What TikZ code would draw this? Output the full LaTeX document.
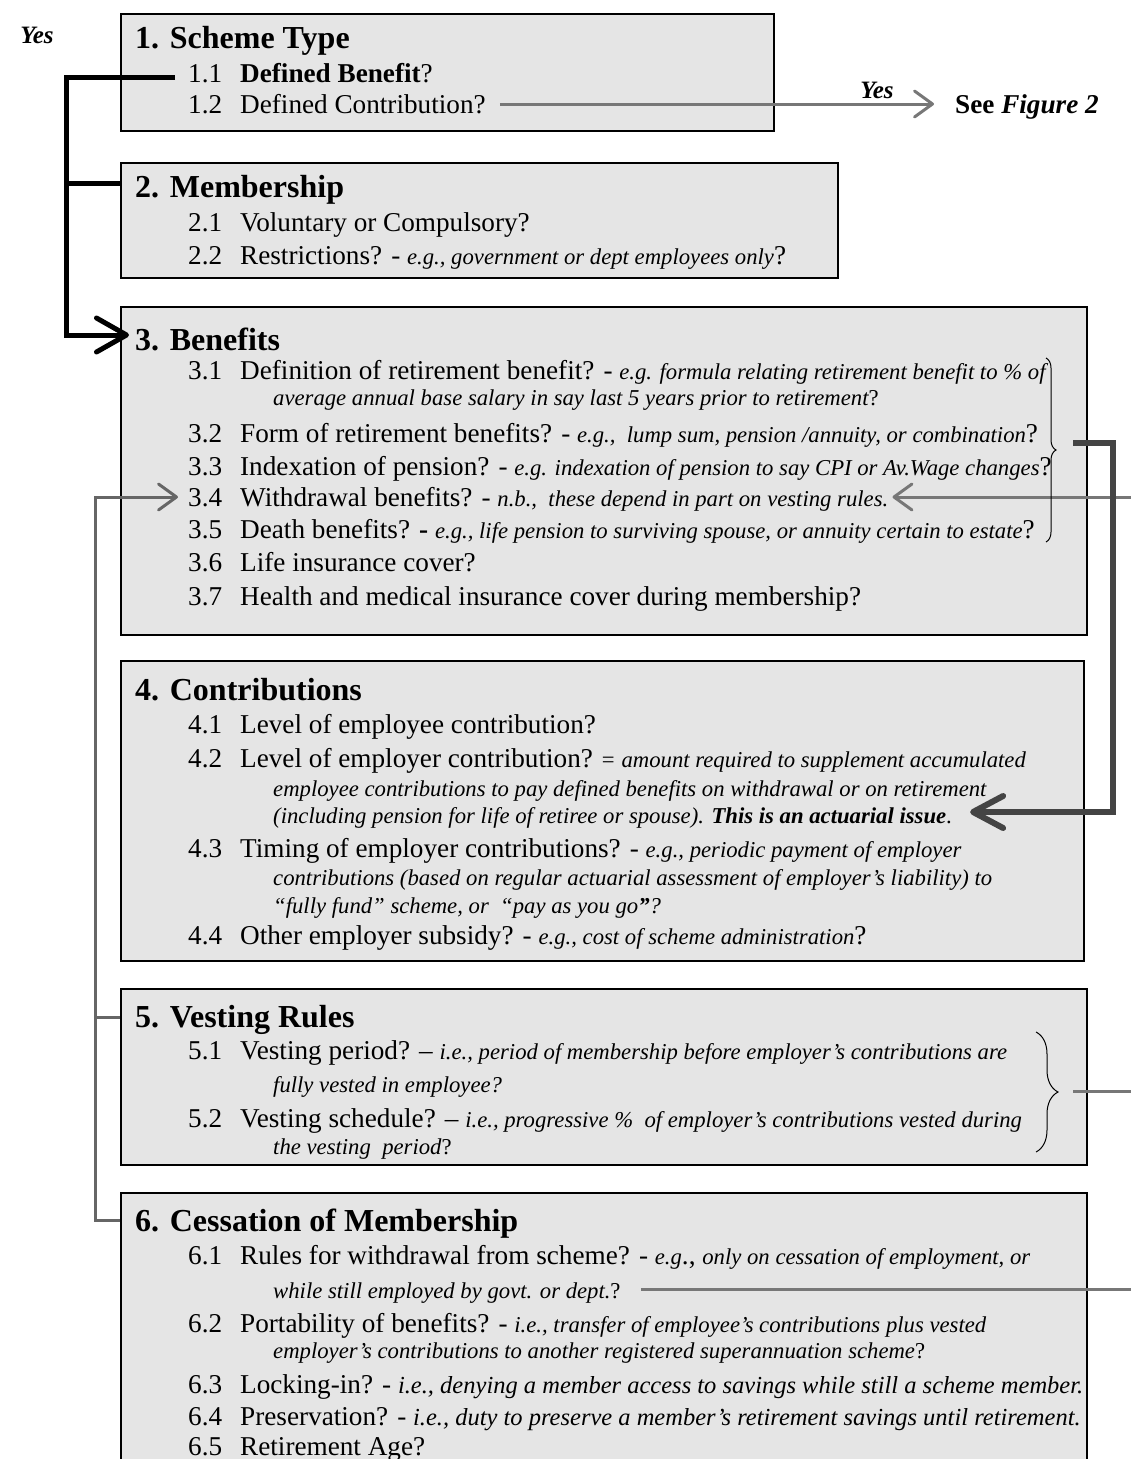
\documentclass[tikz,border=0pt]{standalone}
\usepackage{fontspec}
\setmainfont{Liberation Serif}
\usetikzlibrary{arrows.meta,decorations.pathreplacing,calc}
\definecolor{boxgray}{HTML}{E5E5E5}
\definecolor{lgrey}{HTML}{777777}
\definecolor{mgrey}{HTML}{666666}
\definecolor{dgrey}{HTML}{444444}
\newcommand{\TitleF}{\fontsize{32}{38}\selectfont\bfseries}
\newcommand{\MainF}{\fontsize{27.2}{32}\selectfont}
\newcommand{\NoteF}{\fontsize{22.7}{27}\selectfont\itshape}
\newcommand{\NT}[1]{{\NoteF #1}}
\newcommand{\NTb}[1]{{\fontsize{24.5}{29}\selectfont\itshape #1}}
\newcommand{\Num}[1]{\makebox[52pt][l]{#1}}
\begin{document}
\begin{tikzpicture}[x=1pt,y=-1pt,
  box/.style={draw=black, line width=1.8pt, fill=boxgray, inner sep=0pt, anchor=north west},
  txt/.style={anchor=base west, inner sep=0pt, font=\MainF},
  ttl/.style={anchor=base west, inner sep=0pt, font=\TitleF},
  cont/.style={anchor=base west, inner sep=0pt, font=\NoteF},
  yes/.style={inner sep=0pt, font=\fontsize{25}{30}\selectfont\bfseries\itshape},
  blk/.style={draw=black, line width=5pt},
  gl/.style={draw=mgrey, line width=3pt},
  gr/.style={draw=lgrey, line width=3pt},
  dk/.style={draw=dgrey, line width=6pt},
  bigtip/.style={-{Straight Barb[length=30pt,width=34pt,round]}},
  smalltip/.style={-{Straight Barb[length=18pt,width=26pt,round]}},
  dktip/.style={-{Straight Barb[length=30pt,width=32pt,round]}},
  brc/.style={draw=black, line width=1pt, decorate}
]
\clip (0,0) rectangle (1131,1459);
\useasboundingbox (0,0) rectangle (1131,1459);

% ---------- boxes ----------
\node[box, minimum width=653pt, minimum height=117pt] (b1) at (120,13) {};
\node[box, minimum width=717pt, minimum height=115pt] (b2) at (120,162) {};
\node[box, minimum width=966pt, minimum height=328pt] (b3) at (120,306) {};
\node[box, minimum width=963pt, minimum height=300pt] (b4) at (120,660) {};
\node[box, minimum width=966pt, minimum height=176pt] (b5) at (120,988) {};
\node[box, minimum width=966pt, minimum height=300pt] (b6) at (120,1192) {};

% ---------- box 1 ----------
\node[ttl] (h1) at (135,48) {1. Scheme Type};
\node[txt] (i11) at (188,82) {\Num{1.1}\textbf{Defined Benefit}?};
\node[txt] (i12) at (188,113) {\Num{1.2}Defined Contribution?};

% ---------- box 2 ----------
\node[ttl] (h2) at (135,197) {2. Membership};
\node[txt] (i21) at (188,231) {\Num{2.1}Voluntary or Compulsory?};
\node[txt] (i22) at (188,264) {\Num{2.2}Restrictions? - \NT{e.g., government or dept employees only}?};

% ---------- box 3 ----------
\node[ttl] (h3) at (135,350) {3. Benefits};
\node[txt] (i31) at (188,379) {\Num{3.1}Definition of retirement benefit? - \NT{e.g. formula relating retirement benefit to \% of}};
\node[cont] (c31) at (273,405) {average annual base salary in say last 5 years prior to retirement\upshape ?};
\node[txt] (i32) at (188,442) {\Num{3.2}Form of retirement benefits? - \NT{e.g.,\ \ lump sum, pension /annuity, or combination}?};
\node[txt] (i33) at (188,475) {\Num{3.3}Indexation of pension? - \NT{e.g. indexation of pension to say CPI or Av.Wage changes}?};
\node[txt] (i34) at (188,506) {\Num{3.4}Withdrawal benefits? - \NT{n.b.,\ \ these depend in part on vesting rules.}};
\node[txt] (i35) at (188,538) {\Num{3.5}Death benefits? \textbf{-} \NT{e.g., life pension to surviving spouse, or annuity certain to estate}?};
\node[txt] (i36) at (188,571) {\Num{3.6}Life insurance cover?};
\node[txt] (i37) at (188,605) {\Num{3.7}Health and medical insurance cover during membership?};

% ---------- box 4 ----------
\node[ttl] (h4) at (135,700) {4. Contributions};
\node[txt] (i41) at (188,733) {\Num{4.1}Level of employee contribution?};
\node[txt] (i42) at (188,767) {\Num{4.2}Level of employer contribution? {\fontsize{22.7}{27}\selectfont =} \NT{amount required to supplement accumulated}};
\node[cont] (c42a) at (273,796) {employee contributions to pay defined benefits on withdrawal or on retirement};
\node[cont] (c42b) at (273,823) {(including pension for life of retiree or spouse). \textbf{This is an actuarial issue}\upshape .};
\node[txt] (i43) at (188,857) {\Num{4.3}Timing of employer contributions? - \NT{e.g., periodic payment of employer}};
\node[cont] (c43a) at (273,885) {contributions (based on regular actuarial assessment of employer’s liability) to};
\node[cont] (c43b) at (273,913) {“fully fund” scheme, or\ \ “pay as you go\textbf{”}?};
\node[txt] (i44) at (188,944) {\Num{4.4}Other employer subsidy? - \NT{e.g., cost of scheme administration}?};

% ---------- box 5 ----------
\node[ttl] (h5) at (135,1027) {5. Vesting Rules};
\node[txt] (i51) at (188,1059) {\Num{5.1}Vesting period? -- \NT{i.e., period of membership before employer’s contributions are}};
\node[cont] (c51) at (273,1092) {fully vested in employee?};
\node[txt] (i52) at (188,1127) {\Num{5.2}Vesting schedule? -- \NT{i.e., progressive \%\ \ of employer’s contributions vested during}};
\node[cont] (c52) at (273,1154) {the vesting\ \ period\upshape ?};

% ---------- box 6 ----------
\node[ttl] (h6) at (135,1231) {6. Cessation of Membership};
\node[txt] (i61) at (188,1264) {\Num{6.1}Rules for withdrawal from scheme? - \NT{e.g}., \NT{only on cessation of employment, or}};
\node[cont] (c61) at (273,1298) {while still employed by govt. or dept.\upshape ?};
\node[txt] (i62) at (188,1332) {\Num{6.2}Portability of benefits? - \NT{i.e., transfer of employee’s contributions plus vested}};
\node[cont] (c62) at (273,1358) {employer’s contributions to another registered superannuation scheme\upshape ?};
\node[txt] (i63) at (188,1393) {\Num{6.3}Locking-in? - \NTb{i.e., denying a member access to savings while still a scheme member.}};
\node[txt] (i64) at (188,1425) {\Num{6.4}Preservation? - \NTb{i.e., duty to preserve a member’s retirement savings until retirement.}};
\node[txt] (i65) at (188,1455) {\Num{6.5}Retirement Age?};

% ---------- labels ----------
\node[yes] (yes1) at (37,35) {Yes};
\node[yes] (yes2) at (877,90) {Yes};
\node[anchor=base west, inner sep=0pt, font=\MainF] (fig2) at (955,113) {\textbf{See \textit{Figure 2}}};

% ---------- black tree ----------
\coordinate (k1) at (175,77);
\coordinate (k2) at (66,77);
\coordinate (k3) at (66,335);
\coordinate (k4) at (66,183);
\draw[blk, bigtip] (k1) -- (k2) -- (k3) -- ($(k3 -| h3.west)+(-6,0)$);
\draw[blk] (k4) -- (k4 -| b2.west);

% ---------- grey arrow to Figure 2 ----------
\coordinate (a2) at (934,104);
\draw[gr, smalltip] ($(i12.east |- a2)+(14,0)$) -- (a2);

% ---------- grey left connector ----------
\coordinate (g1) at (95,497);
\coordinate (g2) at (95,1220);
\coordinate (g3) at (95,1017);
\draw[gl, smalltip] (g2 -| b6.west) -- (g2) -- (g1) -- ($(g1 -| i34.west)+(-10,0)$);
\draw[gl] (g3) -- (g3 -| b5.west);

% ---------- grey right arrow to 3.4 ----------
\coordinate (r1) at (1131,497);
\draw[gr, smalltip] (r1) -- ($(r1 -| i34.east)+(4,0)$);

% ---------- braces ----------
\coordinate (bt1) at (1046,358);
\coordinate (bb1) at (1046,542);
\draw[brc, decoration={brace, amplitude=10pt}] (bt1) -- (bb1);
\coordinate (bt5) at (1036,1032);
\coordinate (bb5) at (1036,1152);
\draw[brc, decoration={brace, amplitude=22pt}] (bt5) -- (bb5);

% ---------- dark connector 3 -> 4.2 ----------
\coordinate (d1) at (1073,443);
\coordinate (d2) at (1113,443);
\coordinate (d3) at (1113,812);
\draw[dk, dktip] (d1) -- (d2) -- (d3) -- ($(d3 -| c42b.east)+(18,0)$);

% ---------- grey lines leaving right edge ----------
\coordinate (v1) at (1073,1091);
\coordinate (v2) at (1131,1091);
\draw[gr] (v1) -- (v2);
\coordinate (w2) at (1131,1289);
\draw[gr] ($(c61.east |- w2)+(20,0)$) -- (w2);
\end{tikzpicture}
\end{document}
